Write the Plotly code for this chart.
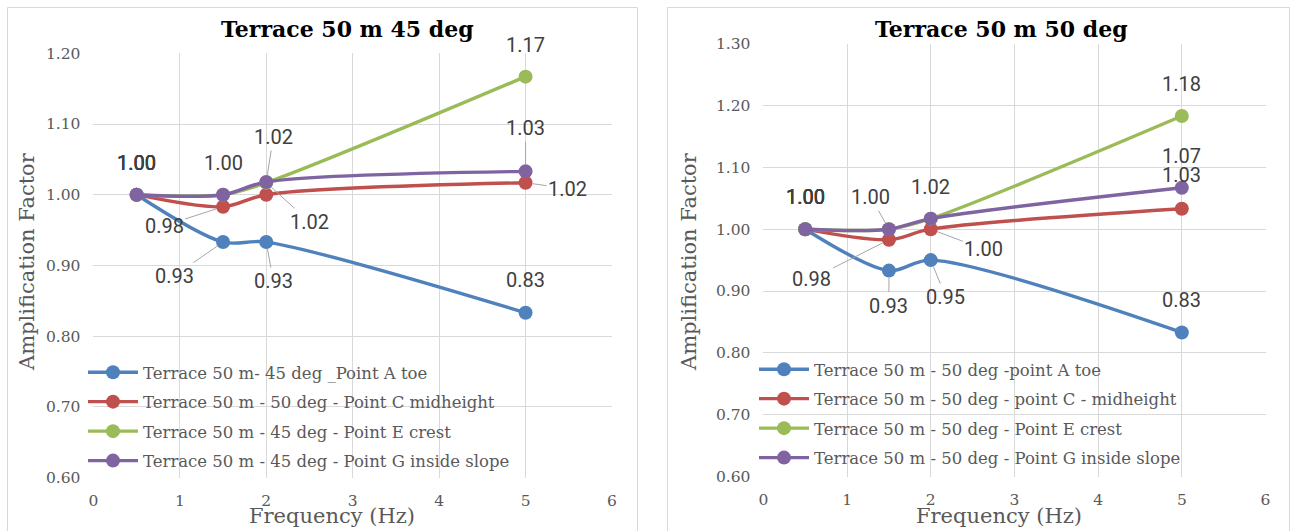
import plotly.graph_objects as go

# ---------------- data ----------------
freq = [0.5, 1.5, 2, 5]

names_45 = [
    "Terrace 50 m- 45 deg _Point A toe",
    "Terrace 50 m - 50 deg - Point C midheight",
    "Terrace 50 m - 45 deg - Point E crest",
    "Terrace 50 m - 45 deg - Point G inside slope",
]
a45 = [1.000, 0.933, 0.933, 0.833]
c45 = [1.000, 0.983, 1.000, 1.017]
e45 = [1.000, 1.000, 1.017, 1.167]
g45 = [1.000, 1.000, 1.018, 1.033]

names_50 = [
    "Terrace 50 m - 50 deg -point A toe",
    "Terrace 50 m - 50 deg - point C - midheight",
    "Terrace 50 m - 50 deg - Point E crest",
    "Terrace 50 m - 50 deg - Point G inside slope",
]
a50 = [1.000, 0.933, 0.950, 0.833]
c50 = [1.000, 0.983, 1.000, 1.033]
e50 = [1.000, 1.000, 1.017, 1.183]
g50 = [1.000, 1.000, 1.017, 1.067]

titles = ["Terrace 50 m 45 deg", "Terrace 50 m 50 deg"]
x_ticks = [0, 1, 2, 3, 4, 5, 6]
y_ticks_45 = [0.60, 0.70, 0.80, 0.90, 1.00, 1.10, 1.20]
y_ticks_50 = [0.60, 0.70, 0.80, 0.90, 1.00, 1.10, 1.20, 1.30]

colors = ["#4F81BD", "#C0504D", "#9BBB59", "#8064A2"]

# ---------------- styling ----------------
W, H = 1293, 531
SERIF = "DejaVu Serif"
LABEL_FONT = dict(family="Roboto", size=20, color="#404040")
LEADER = "#A6A6A6"

fig = go.Figure()

panels = [
    dict(series=[a45, c45, e45, g45], names=names_45, xa="x", ya="y", legend="legend"),
    dict(series=[a50, c50, e50, g50], names=names_50, xa="x2", ya="y2", legend="legend2"),
]

for p in panels:
    for i, (vals, nm) in enumerate(zip(p["series"], p["names"])):
        fig.add_trace(go.Scatter(
            x=freq, y=vals, name=nm, mode="lines+markers",
            line=dict(color=colors[i], width=3.4, shape="spline", smoothing=0.9),
            marker=dict(color=colors[i], size=14),
            xaxis=p["xa"], yaxis=p["ya"], legend=p["legend"],
            legendgroup=p["legend"] + str(i),
            hoverinfo="skip",
        ))

# data labels: (series index, point index, dx, dy, leader)
labels_45 = [
    (0, 0, 0, -32, False), (1, 0, 0, -32, False), (2, 0, 0, -32, False), (3, 0, 0, -32, False),
    (3, 1, 0, -32, False),
    (3, 2, 7, -45, True),
    (2, 2, 43, 39, True),
    (1, 1, -59, 19, True),
    (0, 1, -49, 34, True),
    (0, 2, 7, 39, True),
    (2, 3, 0, -32, False),
    (3, 3, 0, -43, True),
    (1, 3, 42, 6, True),
    (0, 3, 0, -33, False),
]
labels_50 = [
    (0, 0, 0, -32, False), (1, 0, 0, -32, False), (2, 0, 0, -32, False), (3, 0, 0, -32, False),
    (3, 1, -18, -32, True),
    (3, 2, 0, -32, False),
    (1, 2, 53, 20, True),
    (1, 1, -77, 39, True),
    (0, 1, 0, 35, True),
    (0, 2, 15, 37, True),
    (2, 3, 0, -32, False),
    (3, 3, 0, -32, False),
    (1, 3, 0, -34, False),
    (0, 3, 0, -32, False),
]

annotations = []
for p, labs in zip(panels, [labels_45, labels_50]):
    for (si, pi, dx, dy, leader) in labs:
        v = p["series"][si][pi]
        a = dict(x=freq[pi], y=v, xref=p["xa"], yref=p["ya"],
                 text=f"{v:.2f}", font=LABEL_FONT)
        if leader:
            a.update(showarrow=True, ax=dx, ay=dy, axref="pixel", ayref="pixel",
                     arrowhead=0, arrowwidth=1, arrowcolor=LEADER, standoff=7)
        else:
            a.update(showarrow=False, xshift=dx, yshift=-dy)
        annotations.append(a)

# titles and axis titles as annotations (positions in paper coords)
title_font = dict(family="DejaVu Serif", size=22, color="#000000")
for cx, t in zip([347, 1001], titles):
    annotations.append(dict(x=cx / W, y=1 - 29 / H, xref="paper", yref="paper",
                            text=f"<b>{t}</b>", showarrow=False, font=title_font,
                            xanchor="center", yanchor="middle"))
axis_title_font = dict(family=SERIF, size=21, color="#595959")
for cx in [27, 689]:
    annotations.append(dict(x=cx / W, y=1 - 262 / H, xref="paper", yref="paper",
                            text="Amplification Factor", textangle=-90, showarrow=False,
                            font=axis_title_font, xanchor="center", yanchor="middle"))
for cx in [332, 999]:
    annotations.append(dict(x=cx / W, y=1 - 516 / H, xref="paper", yref="paper",
                            text="Frequency (Hz)", showarrow=False,
                            font=axis_title_font, xanchor="center", yanchor="middle"))

tick_font = dict(family=SERIF, size=15.5, color="#595959")
axis_common = dict(showgrid=True, gridcolor="#D9D9D9", gridwidth=1, zeroline=False,
                   showline=False, ticks="", tickfont=tick_font, fixedrange=True,
                   automargin=False)

shapes = []
for x0, x1 in [(7.5, 637.5), (667.5, 1289.5)]:
    shapes.append(dict(type="rect", xref="paper", yref="paper",
                       x0=x0 / W, x1=x1 / W, y0=-0.05, y1=1 - 7.5 / H,
                       line=dict(color="#D9D9D9", width=1), fillcolor="rgba(0,0,0,0)",
                       layer="below"))

legend_common = dict(bgcolor="rgba(0,0,0,0)", borderwidth=0,
                     font=dict(family=SERIF, size=16.5, color="#595959"),
                     xanchor="left", yanchor="top", itemwidth=50,
                     traceorder="grouped", tracegroupgap=5, itemclick=False)

fig.update_layout(
    width=W, height=H, margin=dict(l=0, r=0, t=0, b=0, autoexpand=False),
    paper_bgcolor="white", plot_bgcolor="white",
    showlegend=True,
    xaxis=dict(domain=[93.4 / W, 612 / W], range=[0, 6], tickvals=x_ticks,
               ticklabelstandoff=12, anchor="y", **axis_common),
    yaxis=dict(domain=[1 - 477.5 / H, 1 - 53.3 / H], range=[0.6, 1.2], tickvals=y_ticks_45,
               tickformat=".2f", ticklabelstandoff=12, anchor="x", **axis_common),
    xaxis2=dict(domain=[763.4 / W, 1265.5 / W], range=[0, 6], tickvals=x_ticks,
                ticklabelstandoff=12, anchor="y2", **axis_common),
    yaxis2=dict(domain=[1 - 476.5 / H, 1 - 43.7 / H], range=[0.6, 1.3], tickvals=y_ticks_50,
                tickformat=".2f", ticklabelstandoff=12, anchor="x2", **axis_common),
    legend=dict(x=83 / W, y=1 - 355 / H, **legend_common),
    legend2=dict(x=754 / W, y=1 - 352 / H, **legend_common),
    annotations=annotations,
    shapes=shapes,
)

fig.write_html("out.html")
